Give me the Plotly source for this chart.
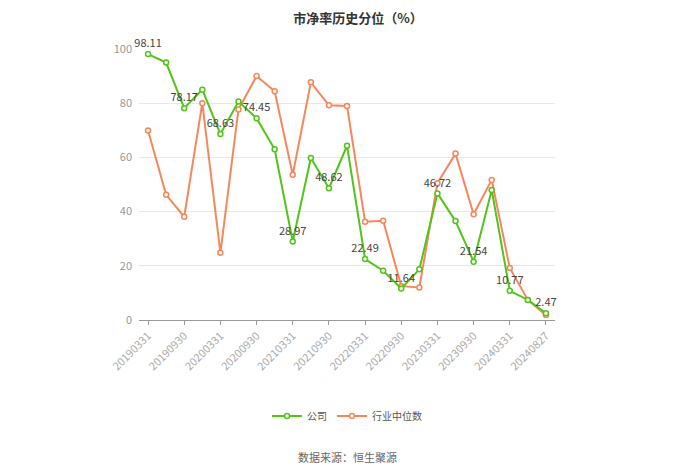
import plotly.graph_objects as go

dates = ["20190331", "20190630", "20190930", "20191231", "20200331", "20200630",
         "20200930", "20201231", "20210331", "20210630", "20210930", "20211231",
         "20220331", "20220630", "20220930", "20221231", "20230331", "20230630",
         "20230930", "20231231", "20240331", "20240630", "20240827"]
company = [98.11, 95.0, 78.17, 85.0, 68.63, 80.6, 74.45, 63.0, 28.97, 59.8, 48.62, 64.3,
           22.49, 18.2, 11.64, 18.7, 46.72, 36.5, 21.54, 48.0, 10.77, 7.4, 2.47]
industry = [69.9, 46.2, 38.1, 80.0, 24.8, 77.7, 90.0, 84.4, 53.6, 87.7, 79.2, 79.0,
            36.3, 36.6, 12.5, 12.0, 50.5, 61.4, 39.0, 51.7, 19.2, 7.4, 1.8]
label_idx = [0, 2, 4, 6, 8, 10, 12, 14, 16, 18, 20, 22]
tick_labels = [dates[i] for i in label_idx]

green = "#52c41a"
orange = "#f5875c"

company_text = [f"{v:.2f}" if i in label_idx else "" for i, v in enumerate(company)]

fig = go.Figure()
fig.add_trace(go.Scatter(
    x=dates, y=industry, name="行业中位数", mode="lines+markers",
    line=dict(color=orange, width=2), cliponaxis=False,
    marker=dict(symbol="circle", size=5, color="white", line=dict(color=orange, width=1.5)),
))
fig.add_trace(go.Scatter(
    x=dates, y=company, name="公司", mode="lines+markers+text",
    text=company_text, textposition="top center", cliponaxis=False,
    textfont=dict(size=11, color="#444"),
    line=dict(color=green, width=2),
    marker=dict(symbol="circle", size=5, color="white", line=dict(color=green, width=1.5)),
))

fig.update_layout(
    width=700, height=474,
    margin=dict(l=131, r=153, t=41, b=162),
    paper_bgcolor="white", plot_bgcolor="white",
    font=dict(family="Noto Sans CJK SC, sans-serif", color="#999"),
    title=dict(text="<b>市净率历史分位（%）</b>", x=0.5, xanchor="center", y=0.988, yanchor="top",
               pad=dict(t=0, b=0), font=dict(size=13, color="#333")),
    showlegend=True,
    legend=dict(orientation="h", x=0.5, xanchor="center", y=-0.354, yanchor="middle",
                font=dict(size=10, color="#555"), traceorder="reversed", itemwidth=30),
    xaxis=dict(type="category", range=[-0.5, 22.5], tickmode="array",
               tickvals=tick_labels, ticktext=tick_labels, tickangle=-45,
               showgrid=False, showline=True, linecolor="#999", linewidth=1,
               ticks="outside", ticklen=4, tickcolor="#999",
               tickfont=dict(size=11, color="#aaa")),
    yaxis=dict(range=[0, 100], tickvals=[0, 20, 40, 60, 80, 100], showgrid=True,
               gridcolor="#e8e8e8", zeroline=False, showline=False, ticklabelstandoff=6,
               tickfont=dict(size=11, color="#999")),
    annotations=[dict(text="数据来源：恒生聚源", x=0.5, xref="paper", y=-0.506, yref="paper",
                      yanchor="middle", showarrow=False, font=dict(size=11, color="#666"))],
)
fig.write_html("out.html")
